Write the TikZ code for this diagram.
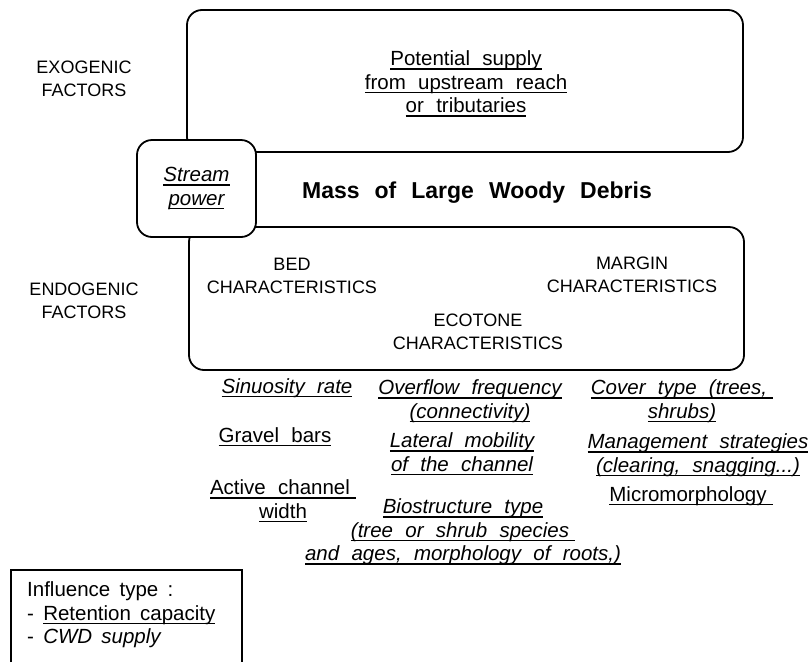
\documentclass[tikz,border=0pt]{standalone}
\usepackage{fontspec}
\setmainfont{Liberation Sans}
\newsavebox\ulbox
\newcommand\ulx[1]{\sbox\ulbox{#1}\rlap{\rule[-0.2em]{\wd\ulbox}{1.5pt}}\usebox\ulbox}
\newcommand\mixedfont{\fontsize{20.5}{23.5}\selectfont\spaceskip 0.6em\relax}
\newcommand\legfont{\fontsize{20.5}{23.5}\selectfont\spaceskip 0.45em\relax}
\tikzset{
  mixed/.style={font=\mixedfont, align=center, inner sep=0pt},
  mixedit/.style={font=\mixedfont\itshape, align=center, inner sep=0pt},
  caps/.style={font=\fontsize{18}{23.5}\selectfont, align=center, inner sep=0pt},
  legtext/.style={font=\legfont, anchor=west, inner sep=0pt},
  rbox/.style={draw, line width=1.8pt, rounded corners=15pt, inner sep=0pt},
}
\begin{document}
\begin{tikzpicture}[x=1pt,y=-1pt]
\useasboundingbox (0,0) rectangle (812,662);
% big boxes
\node[rbox, minimum width=556pt, minimum height=142pt] (top) at (465,81) {};
\node[mixed] (supply) at (466,84)
  {\ulx{Potential supply}\\\ulx{from upstream reach}\\\ulx{or tributaries}};
\node[rbox, minimum width=555pt, minimum height=143pt] (endo) at (466.5,298.5) {};
\node[rbox, fill=white, minimum width=119pt, minimum height=97pt, mixedit] (stream) at (196.5,188.5)
  {\ulx{Stream}\\\ulx{power}};
% side labels
\node[caps] (exo) at (84,79) {EXOGENIC\\FACTORS};
\node[caps] (endol) at (84,301) {ENDOGENIC\\FACTORS};
\node[font=\fontsize{23}{26}\selectfont\bfseries, inner sep=0pt] (mass) at (477,193)
  {Mass\hspace{15pt}of\hspace{15pt}Large\hspace{15pt}Woody\hspace{15pt}Debris};
% characteristics
\node[caps] (bed) at (292,276) {BED\\CHARACTERISTICS};
\node[caps] (margin) at (632,275) {MARGIN\\CHARACTERISTICS};
\node[caps] (ecotone) at (478,332) {ECOTONE\\CHARACTERISTICS};
% bed factors
\node[mixedit] (sinu) at (287,388) {\ulx{Sinuosity rate}};
\node[mixed] (gravel) at (275,437) {\ulx{Gravel bars}};
\node[mixed] (active) at (283,501) {\ulx{Active channel\hspace{6pt}}\\\ulx{width}};
% ecotone factors
\node[mixedit] (overflow) at (470,401) {\ulx{Overflow frequency}\\\ulx{(connectivity)}};
\node[mixedit] (lateral) at (462,454) {\ulx{Lateral mobility}\\\ulx{of the channel}};
\node[mixedit] (bio) at (463,532) {\ulx{Biostructure type}\\\ulx{(tree or shrub species\hspace{6pt}}\\\ulx{and ages, morphology of roots,)}};
% margin factors
\node[mixedit] (cover) at (682,401) {\ulx{Cover type (trees,\hspace{6pt}}\\\ulx{shrubs)}};
\node[mixedit] (manag) at (698,455) {\ulx{Management strategies}\\\ulx{(clearing, snagging...)}};
\node[mixed] (micro) at (691,496) {\ulx{Micromorphology\hspace{6pt}}};
% legend
\draw[line width=1.5pt] (11,662) -- (11,570) -- (242,570) -- (242,662);
\node[legtext] (leg1) at (27,591) {Influence type :};
\node[legtext] (leg2) at (27,615) {- \ulx{Retention capacity}};
\node[legtext] (leg3) at (27,638) {- {\itshape CWD supply}};
\end{tikzpicture}
\end{document}
